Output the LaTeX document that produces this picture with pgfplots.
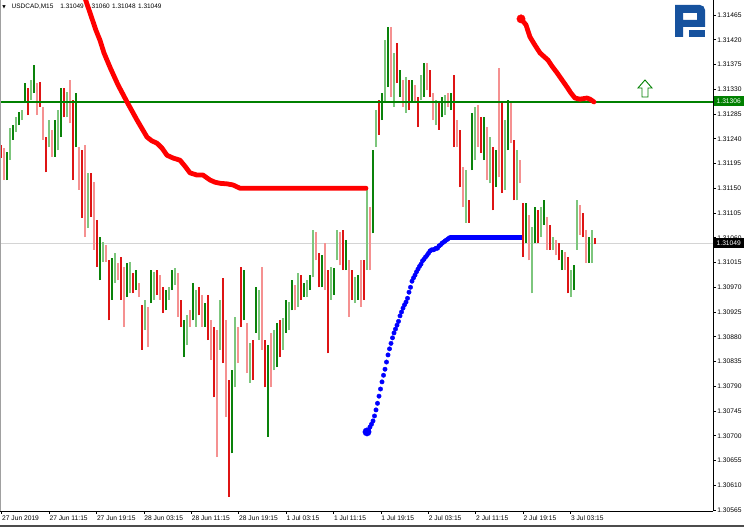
\documentclass[border=0pt]{standalone}
\usepackage{pgfplots}
\pgfplotsset{compat=1.18}
\usepackage{pgfplotstable}
\usepackage{fontspec}
\setmainfont{Liberation Sans}
\newfontfamily\dejavu{DejaVu Sans}

\definecolor{cgd}{RGB}{10,130,10}
\definecolor{cgl}{RGB}{125,198,125}
\definecolor{crd}{RGB}{222,20,20}
\definecolor{crl}{RGB}{245,145,145}
\definecolor{mtgreen}{RGB}{0,128,0}
\definecolor{logoblue}{RGB}{22,82,158}
\definecolor{framegray}{RGB}{160,160,160}
\definecolor{pricegray}{RGB}{212,212,212}

% up candles (dark shade)
\pgfplotstableread{
x lo hi
7 1.31165 1.31216
13 1.31238 1.31265
19 1.31265 1.31288
25 1.31305 1.31341
34 1.31323 1.31374
55 1.31207 1.31274
61 1.31243 1.31332
76 1.31225 1.31323
100 1.30983 1.31061
112 1.30947 1.31023
127 1.30952 1.31014
136 1.30965 1.31001
151 1.30941 1.31001
166 1.30928 1.30965
172 1.30965 1.31001
184 1.30843 1.30910
193 1.30910 1.30978
205 1.30898 1.30941
232 1.30668 1.30819
244 1.30910 1.31001
256 1.30887 1.30970
268 1.30698 1.30865
277 1.30825 1.30905
286 1.30887 1.30947
292 1.30928 1.30983
304 1.30952 1.30978
310 1.30965 1.30992
322 1.30970 1.31028
334 1.30956 1.31005
346 1.31001 1.31056
358 1.30947 1.30992
373 1.31068 1.31219
382 1.31274 1.31323
388 1.31334 1.31443
400 1.31316 1.31365
412 1.31305 1.31347
424 1.31316 1.31378
442 1.31279 1.31316
451 1.31292 1.31323
472 1.31183 1.31287
484 1.31201 1.31279
496 1.31152 1.31219
508 1.31219 1.31310
526 1.31050 1.31123
535 1.31050 1.31116
544 1.31083 1.31128
562 1.31001 1.31038
574 1.30965 1.31010
589 1.31014 1.31061
}\Gd

% up candles (light shade)
\pgfplotstableread{
x lo hi
10 1.31201 1.31259
16 1.31252 1.31279
22 1.31274 1.31292
31 1.31310 1.31347
49 1.31225 1.31274
58 1.31219 1.31292
67 1.31279 1.31325
88 1.31078 1.31178
103 1.31016 1.31052
115 1.30978 1.31032
130 1.30959 1.31016
145 1.30892 1.30947
154 1.30947 1.30998
169 1.30947 1.30970
175 1.30974 1.31005
187 1.30865 1.30919
196 1.30898 1.30965
220 1.30856 1.30947
235 1.30788 1.30916
250 1.30796 1.30868
259 1.30874 1.30965
274 1.30819 1.30892
283 1.30856 1.30914
289 1.30892 1.30943
298 1.30934 1.30996
307 1.30952 1.30983
313 1.30988 1.31074
331 1.30947 1.31007
337 1.31019 1.31074
355 1.30941 1.30988
367 1.31001 1.31147
376 1.31225 1.31292
385 1.31305 1.31419
394 1.31298 1.31396
406 1.31287 1.31352
421 1.31310 1.31356
436 1.31265 1.31310
445 1.31283 1.31319
466 1.31087 1.31183
475 1.31201 1.31298
490 1.31159 1.31243
505 1.31147 1.31274
517 1.31128 1.31219
532 1.30959 1.31079
541 1.31061 1.31116
553 1.31038 1.31061
571 1.30952 1.31001
577 1.31038 1.31128
592 1.31014 1.31074
}\Gl

% down candles (dark shade)
\pgfplotstableread{
x lo hi
1 1.31205 1.31228
28 1.31283 1.31332
40 1.31298 1.31343
46 1.31179 1.31243
64 1.31279 1.31332
73 1.31165 1.31310
82 1.31096 1.31219
91 1.31098 1.31178
97 1.31007 1.31092
109 1.30910 1.31019
121 1.30947 1.31025
133 1.30959 1.30996
142 1.30856 1.30938
157 1.30956 1.31001
163 1.30923 1.30970
181 1.30898 1.30947
199 1.30919 1.30970
208 1.30874 1.30956
214 1.30770 1.30898
223 1.30832 1.30987
229 1.30589 1.30801
241 1.30898 1.31007
253 1.30801 1.30874
265 1.30788 1.30874
280 1.30843 1.30910
301 1.30947 1.30992
319 1.30970 1.31032
328 1.30850 1.31001
343 1.31001 1.31074
352 1.30947 1.31001
364 1.30947 1.31019
379 1.31247 1.31310
397 1.31341 1.31414
409 1.31292 1.31347
418 1.31261 1.31316
430 1.31316 1.31365
439 1.31256 1.31305
454 1.31225 1.31356
460 1.31152 1.31256
469 1.31087 1.31128
481 1.31214 1.31279
493 1.31110 1.31225
502 1.31141 1.31305
514 1.31128 1.31238
523 1.31025 1.31123
538 1.31050 1.31110
550 1.31038 1.31083
559 1.31019 1.31050
568 1.30959 1.31025
583 1.31061 1.31105
595 1.31048 1.31060
}\Rd

% down candles (light shade)
\pgfplotstableread{
x lo hi
4 1.31165 1.31223
37 1.31283 1.31341
43 1.31238 1.31298
52 1.31207 1.31256
70 1.31268 1.31347
79 1.31147 1.31225
85 1.31061 1.31228
94 1.31038 1.31161
106 1.31016 1.31047
118 1.30983 1.31014
124 1.30898 1.31007
139 1.30952 1.30978
148 1.30861 1.30934
160 1.30947 1.30992
178 1.30916 1.30996
190 1.30898 1.30928
202 1.30898 1.30956
211 1.30838 1.30910
217 1.30661 1.30892
226 1.30734 1.30910
238 1.30832 1.30898
247 1.30814 1.30905
262 1.30856 1.31007
271 1.30788 1.30887
295 1.30928 1.30974
316 1.31019 1.31070
325 1.30965 1.31050
340 1.31010 1.31070
349 1.30916 1.31019
361 1.30934 1.31019
370 1.31001 1.31116
391 1.31316 1.31443
403 1.31298 1.31347
415 1.31305 1.31338
427 1.31328 1.31378
433 1.31274 1.31323
448 1.31298 1.31323
457 1.31225 1.31274
463 1.31116 1.31188
478 1.31225 1.31301
487 1.31165 1.31261
499 1.31170 1.31368
511 1.31232 1.31305
520 1.31159 1.31201
529 1.31019 1.31101
547 1.31038 1.31098
556 1.31028 1.31056
565 1.31001 1.31034
580 1.31065 1.31119
586 1.31014 1.31074
}\Rl

\pgfplotsset{candle/.style={draw=none, mark=none, forget plot,
  error bars/.cd, y dir=plus, y explicit, error mark=none,
  error bar style={draw=#1, line width=1.6bp}}}

\begin{document}
\begin{tikzpicture}
\useasboundingbox (0,-16bp) rectangle (744bp,511bp);
\begin{axis}[
  at={(0,0)}, anchor=south west,
  scale only axis, width=713bp, height=511bp,
  xmin=0, xmax=713, ymin=1.305632, ymax=1.314923,
  clip mode=individual,
  axis x line*=bottom, axis y line*=right,
  axis line style={black, line width=0.8bp},
  xtick={1.7,49.1,96.5,143.9,191.3,238.7,286.1,333.5,380.9,428.3,475.7,523.1,570.5},
  xticklabels={27 Jun 2019,27 Jun 11:15,27 Jun 19:15,28 Jun 03:15,28 Jun 11:15,28 Jun 19:15,1 Jul 03:15,1 Jul 11:15,1 Jul 19:15,2 Jul 03:15,2 Jul 11:15,2 Jul 19:15,3 Jul 03:15},
  ytick={1.30565,1.30610,1.30655,1.30700,1.30745,1.30790,1.30835,1.30880,1.30925,1.30970,1.31015,1.31060,1.31105,1.31150,1.31195,1.31240,1.31285,1.31330,1.31375,1.31420,1.31465},
  yticklabels={1.30565,1.30610,1.30655,1.30700,1.30745,1.30790,1.30835,1.30880,1.30925,1.30970,1.31015,1.31060,1.31105,1.31150,1.31195,1.31240,1.31285,1.31330,1.31375,1.31420,1.31465},
  tick align=outside, major tick length=3bp,
  tick style={black, line width=0.6bp},
  xticklabel style={anchor=north west, inner xsep=0.3bp, inner ysep=1.5bp},
  yticklabel style={anchor=west, inner xsep=1.2bp},
  ticklabel style={font=\fontsize{6.7}{8}\selectfont},
]
% current-price line
\addplot[pricegray, line width=0.9bp, forget plot] coordinates {(0,1.31049) (713,1.31049)};

% candles
\addplot[candle=cgl] table[x=x, y=lo, y error plus expr=\thisrow{hi}-\thisrow{lo}] {\Gl};
\addplot[candle=crl] table[x=x, y=lo, y error plus expr=\thisrow{hi}-\thisrow{lo}] {\Rl};
\addplot[candle=cgd] table[x=x, y=lo, y error plus expr=\thisrow{hi}-\thisrow{lo}] {\Gd};
\addplot[candle=crd] table[x=x, y=lo, y error plus expr=\thisrow{hi}-\thisrow{lo}] {\Rd};

% horizontal level
\addplot[mtgreen, line width=2bp, forget plot] coordinates {(0,1.31306) (713,1.31306)};

% title
\node[anchor=center, inner sep=0pt, font=\dejavu\fontsize{4.5}{5}\selectfont, xshift=4bp, yshift=-7bp] at (rel axis cs:0,1) {▼};
\node[anchor=west, inner sep=0pt, font=\fontsize{6.5}{8}\selectfont, xshift=11.5bp, yshift=-6.5bp] at (rel axis cs:0,1) {USDCAD,M15\hspace{7bp}1.31049\hspace{2.5bp}1.31060\hspace{2.5bp}1.31048\hspace{2.5bp}1.31049};

% red indicator (upper)
\addplot[red, line width=4.8bp, line join=round, line cap=round, forget plot] coordinates {
(84,1.31501) (96,1.31437) (100,1.31419) (104,1.31396) (110,1.31370) (118,1.31338)
(127,1.31307) (137,1.31274) (147,1.31243) (152,1.31236) (157,1.31232) (162,1.31223)
(167,1.31210) (173,1.31205) (180,1.31201) (185,1.31190) (190,1.31178) (197,1.31174)
(203,1.31174) (210,1.31165) (215,1.31161) (220,1.31159) (227,1.31158) (233,1.31156)
(240,1.31150) (250,1.31150) (366,1.31150)};

% red indicator (second)
\addplot[red, line width=4.8bp, line join=round, line cap=round, forget plot] coordinates {
(521,1.31458) (526,1.31447) (530,1.31425) (535,1.31410) (540,1.31396) (548,1.31383)
(552,1.31372) (557,1.31360) (562,1.31347) (567,1.31334) (571,1.31323) (575,1.31314)
(580,1.31312) (587,1.31314) (590,1.31312) (594,1.31307)};
\addplot[red, only marks, mark=*, mark size=4.2bp, forget plot] coordinates {(521,1.31458)};

% blue indicator
\addplot[blue, only marks, mark=*, mark size=2.2bp, forget plot] coordinates {
(368.5,1.30710) (370.0,1.30716) (371.5,1.30721) (373.0,1.30727) (374.5,1.30736)
(376.0,1.30747) (377.5,1.30759) (379.0,1.30772) (380.5,1.30785) (382.0,1.30798)
(383.5,1.30810) (385.0,1.30821) (386.5,1.30834) (388.0,1.30847) (389.5,1.30858)
(391.0,1.30868) (392.5,1.30878) (394.0,1.30887) (395.5,1.30894) (397.0,1.30901)
(398.5,1.30908) (400.0,1.30918) (401.5,1.30925) (403.0,1.30932) (404.5,1.30938)
(406.0,1.30943) (407.5,1.30950) (409.0,1.30961) (410.5,1.30970) (412.0,1.30981)
(413.5,1.30987) (415.0,1.30992) (416.5,1.30998) (418.0,1.31003) (419.5,1.31008)
(421.0,1.31012) (422.5,1.31018) (424.0,1.31021) (425.5,1.31025) (427.0,1.31028)
(428.5,1.31032) (430.0,1.31036) (431.5,1.31038) (433.0,1.31038) (434.5,1.31039)
(436.0,1.31041) (437.5,1.31041) (439.0,1.31045) (440.5,1.31047) (442.0,1.31050)
(443.5,1.31052) (445.0,1.31054) (446.5,1.31056) (448.0,1.31058) (449.5,1.31060)};
\addplot[blue, line width=4.6bp, forget plot] coordinates {(449.5,1.31060) (522,1.31060)};
\addplot[blue, only marks, mark=*, mark size=4.2bp, forget plot] coordinates {(367,1.30707)};
\end{axis}

% decorations in image pixel coordinates (origin top-left)
\begin{scope}[shift={(0bp,511bp)}, x=1bp, y=-1bp]
  \draw[framegray, line width=1] (0.5,0) -- (0.5,511);
  % logo
  \fill[logoblue, even odd rule] (675,37) -- (675,5) [rounded corners=5] -- (705,5) [sharp corners] -- (705,27) -- (683,27) -- (683,37) -- cycle (683,13) rectangle (697,20);
  \fill[logoblue] (689,30) rectangle (705,37);
  % arrow
  \draw[mtgreen, line width=0.9, fill=white, line join=miter] (642,97) -- (642,88) -- (638,88) -- (645,80) -- (652,88) -- (648,88) -- (648,97) -- cycle;
  % price boxes
  \fill[mtgreen] (714,96) rectangle (744,106);
  \node[anchor=west, inner sep=0pt, text=white, font=\fontsize{6.7}{8}\selectfont] at (716.5,101) {1.31306};
  \fill[black] (714,238.5) rectangle (744,248);
  \node[anchor=west, inner sep=0pt, text=white, font=\fontsize{6.7}{8}\selectfont] at (716.5,243.2) {1.31049};
  % window bottom edge
  \fill[gray!60!black] (0,525.5) rectangle (744,527);
\end{scope}
\end{tikzpicture}
\end{document}
